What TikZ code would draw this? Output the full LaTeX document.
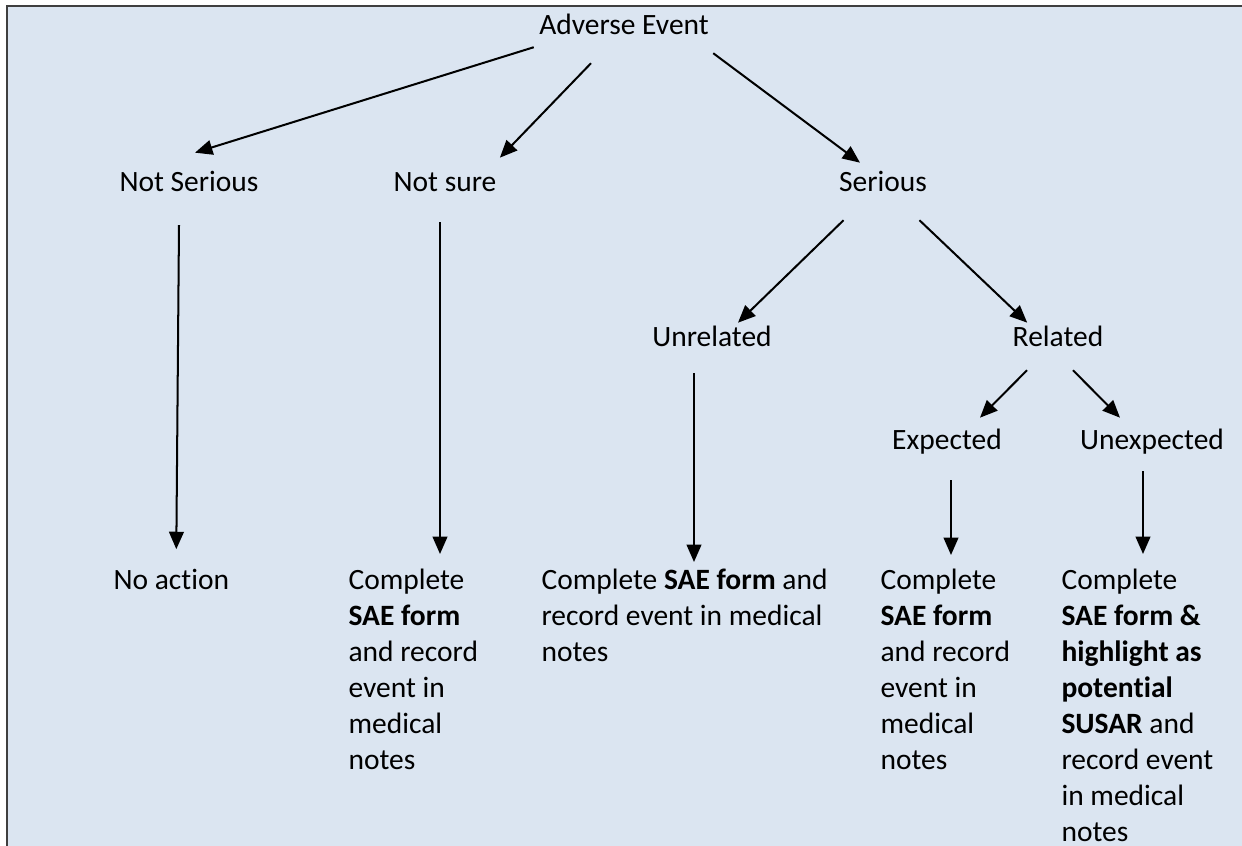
\documentclass[tikz,border=0pt]{standalone}
\usepackage{fontspec}
\setmainfont{Carlito}[Ligatures={NoCommon,NoContextual}, Contextuals=NoAlternate]
\usepackage{xcolor}
\usetikzlibrary{positioning,calc,arrows.meta}

\definecolor{aebg}{HTML}{DBE5F1}
\definecolor{aeframe}{HTML}{3F3F3F}

\begin{document}
\begin{tikzpicture}[x=0.373pt, y=-0.373pt,
		every node/.style={inner sep=0pt, font=\fontsize{11}{13.42}\selectfont},
		label/.style={anchor=base, text height=8.5pt, text depth=2.5pt},
		outcome/.style={anchor=north west, align=left},
		arrow/.style={draw=black, line width=0.75pt, -{Triangle[length=6.5pt,width=5.5pt]}}
	]
	\useasboundingbox (0,0) rectangle (1242,846);
	
	% Background
	\fill[aebg] (7,6) rectangle (1242,846);
	\draw[aeframe, line width=0.8pt] (1242,6) -- (7,6) -- (7,846);
	
	% Questions
	\node[label] (ae) at (624,35) {Adverse Event};
	\node[label] (notser) at (189,191) {Not Serious};
	\node[label] (notsure) at (445,191) {Not sure};
	\node[label] (serious) at (883,191) {Serious};
	\node[label] (unrel) at (712,346) {Unrelated};
	\node[label] (rel) at (1058,346) {Related};
	\node[label] (expd) at (947,449) {Expected};
	\node[label] (unexp) at (1152,449) {Unexpected};
	
	% Outcomes
	\node[anchor=base west] (noact) at (113,589) {No action};
	\node[outcome] (outsure) at (348,564) {\strut Complete\\
		\textbf{SAE form}\\
		and record\\
		event in\\
		medical\\
		notes};
	\node[outcome] (outunrel) at (541,564) {\strut Complete \textbf{SAE form} and\\
		record event in medical\\
		notes};
	\node[outcome] (outexp) at (880,564) {\strut Complete\\
		\textbf{SAE form}\\
		and record\\
		event in\\
		medical\\
		notes};
	\node[outcome] (outunexp) at (1061,564) {\strut Complete\\
		\textbf{SAE form \&}\\
		\textbf{highlight as}\\
		\textbf{potential}\\
		\textbf{SUSAR} and\\
		record event\\
		in medical\\
		notes};
	
	% Arrows
	\draw[arrow] ([shift={(-5,5)}]ae.south west) -- ([shift={(6,-15)}]notser.north);
	\draw[arrow] ([shift={(-33,21)}]ae.south) -- ([shift={(3,-10)}]notsure.north east);
	\draw[arrow] ([shift={(4,11)}]ae.south east) -- ([shift={(-23,-5)}]serious.north);
	\draw[arrow] ([shift={(5,22)}]serious.south west) -- ([shift={(26,0)}]unrel.north);
	\draw[arrow] ([shift={(-8,22)}]serious.south east) -- ([shift={(15,0)}]rel.north west);
	\draw[arrow] ([shift={(-31,17)}]rel.south) -- ([shift={(33,-8)}]expd.north);
	\draw[arrow] ([shift={(15,17)}]rel.south) -- ([shift={(-32,-8)}]unexp.north);
	
	\draw[arrow] ([shift={(-10,27)}]notser.south) -- ([shift={(5,-19)}]noact.north);
	\draw[arrow] ([shift={(-5,24)}]notsure.south) -- ([shift={(92,-10)}]outsure.north west);
	\draw[arrow] ([shift={(-18,20)}]unrel.south) -- ([shift={(153,-2)}]outunrel.north west);
	\draw[arrow] ([shift={(4,24)}]expd.south) -- ([shift={(71,-9)}]outexp.north west);
	\draw[arrow] ([shift={(-9,15)}]unexp.south) -- ([shift={(82,-10)}]outunexp.north west);
\end{tikzpicture}
\end{document}
